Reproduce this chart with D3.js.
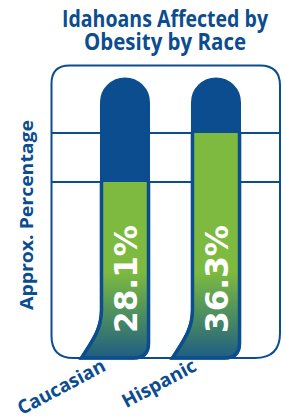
<!DOCTYPE html>
<html>
<head>
<meta charset="utf-8">
<script src="https://cdn.jsdelivr.net/npm/d3@7"></script>
<style>
  html, body { margin: 0; padding: 0; background: #fff; }
  svg { display: block; }
  text { font-family: "Open Sans", "DejaVu Sans", sans-serif; font-weight: 700; }
</style>
</head>
<body>
<div id="chart"></div>
<script>
// Data
const categories = ['Caucasian', 'Hispanic'];
const values = [28.1, 36.3];
const valueLabels = ['28.1%', '36.3%'];
const gridValues = [28.1, 36.3];
const titleLines = ['Idahoans Affected by', 'Obesity by Race'];
const yLabel = 'Approx. Percentage';

const width = 286, height = 420;
const blue = '#0B4D8E';
const green = '#7DBA3F';

const svg = d3.select('#chart').append('svg')
    .attr('width', width)
    .attr('height', height);

// Gradient for the bottom of the bars
const defs = svg.append('defs');
const grad = defs.append('linearGradient')
    .attr('id', 'fillGrad')
    .attr('gradientUnits', 'userSpaceOnUse')
    .attr('x1', 0).attr('x2', 0)
    .attr('y1', 272).attr('y2', 358);
grad.append('stop').attr('offset', 0).attr('stop-color', green);
grad.append('stop').attr('offset', 0.5).attr('stop-color', '#4C8E60');
grad.append('stop').attr('offset', 1).attr('stop-color', '#1F5E82');

// Frame
const fL = 51.5, fR = 280, fT = 65.5, fB = 358;

// Scales
const x = d3.scaleBand()
    .domain(categories)
    .range([79.5, 261.5])
    .paddingInner(0.45)
    .paddingOuter(0.225);

const y = d3.scaleLinear()
    .domain([0, 45.6])
    .range([350, 77.5]);

// Frame path with rounded corners (radii differ a bit)
const tl = 18, tr = 20, bl = 22, br = 25;
const framePath = `M${fL},${fT + tl} Q${fL},${fT} ${fL + tl},${fT}
  L${fR - tr},${fT} Q${fR},${fT} ${fR},${fT + tr}
  L${fR},${fB - br} Q${fR},${fB} ${fR - br},${fB}
  L${fL + bl},${fB} Q${fL},${fB} ${fL},${fB - bl} Z`;

svg.append('path')
    .attr('d', framePath)
    .attr('fill', '#fff')
    .attr('stroke', blue)
    .attr('stroke-width', 2);

// Grid lines
svg.append('g').selectAll('line')
    .data(gridValues)
    .join('line')
    .attr('x1', fL).attr('x2', fR)
    .attr('y1', d => y(d)).attr('y2', d => y(d))
    .attr('stroke', blue)
    .attr('stroke-width', 2);

// Tube shape: dome at top, swoosh to the left at bottom
function tubePath(cat) {
    const L = x(cat) + 1.5;
    const R = x(cat) + x.bandwidth() - 1.5;
    const r = (R - L) / 2;
    const top = y.range()[1] + 1.5;
    const yb = fB;
    const rc = 15;
    return `M${L},${top + r} A${r},${r} 0 0 1 ${R},${top + r}
      L${R},${yb - rc} Q${R},${yb} ${R - rc},${yb}
      L${L - 20},${yb}
      C${L - 10},${yb - 16} ${L},${yb - 28} ${L},${yb - 48} Z`;
}

const bars = svg.append('g').selectAll('g')
    .data(categories)
    .join('g');

bars.append('path')
    .attr('d', d => tubePath(d))
    .attr('fill', blue)
    .attr('stroke', blue)
    .attr('stroke-width', 3);

bars.append('clipPath')
    .attr('id', (d, i) => 'clip' + i)
    .append('rect')
    .attr('x', 0)
    .attr('width', width)
    .attr('y', (d, i) => y(values[i]))
    .attr('height', (d, i) => height - y(values[i]));

bars.append('path')
    .attr('d', d => tubePath(d))
    .attr('clip-path', (d, i) => `url(#clip${i})`)
    .attr('fill', 'url(#fillGrad)')
    .attr('stroke', blue)
    .attr('stroke-width', 3.5);

// Value labels
bars.append('text')
    .attr('transform', d => `translate(${x(d) + x.bandwidth() / 2 + 1},333) rotate(-90)`)
    .attr('dominant-baseline', 'central')
    .attr('fill', '#fff')
    .style('font-family', '"DejaVu Sans", sans-serif')
    .attr('font-size', 32)
    .attr('textLength', 108)
    .attr('lengthAdjust', 'spacingAndGlyphs')
    .text((d, i) => valueLabels[i]);

// Category labels
svg.append('g').selectAll('text')
    .data(categories)
    .join('text')
    .attr('transform', d => `translate(${x(d) + x.bandwidth() / 2 - 18},370) rotate(-28)`)
    .attr('text-anchor', 'end')
    .attr('fill', blue)
    .attr('font-size', 19)
    .text(d => d);

// Title
svg.append('g').selectAll('text')
    .data(titleLines)
    .join('text')
    .attr('x', 165)
    .attr('y', (d, i) => 27 + i * 23)
    .attr('text-anchor', 'middle')
    .attr('fill', blue)
    .attr('font-size', 23)
    .attr('textLength', (d, i) => i === 0 ? 206 : 162)
    .attr('lengthAdjust', 'spacingAndGlyphs')
    .text(d => d);

// Y axis label
svg.append('text')
    .attr('transform', 'translate(33,215) rotate(-90)')
    .attr('text-anchor', 'middle')
    .attr('fill', blue)
    .attr('font-size', 18)
    .attr('textLength', 190)
    .attr('lengthAdjust', 'spacingAndGlyphs')
    .text(yLabel);
</script>
</body>
</html>
